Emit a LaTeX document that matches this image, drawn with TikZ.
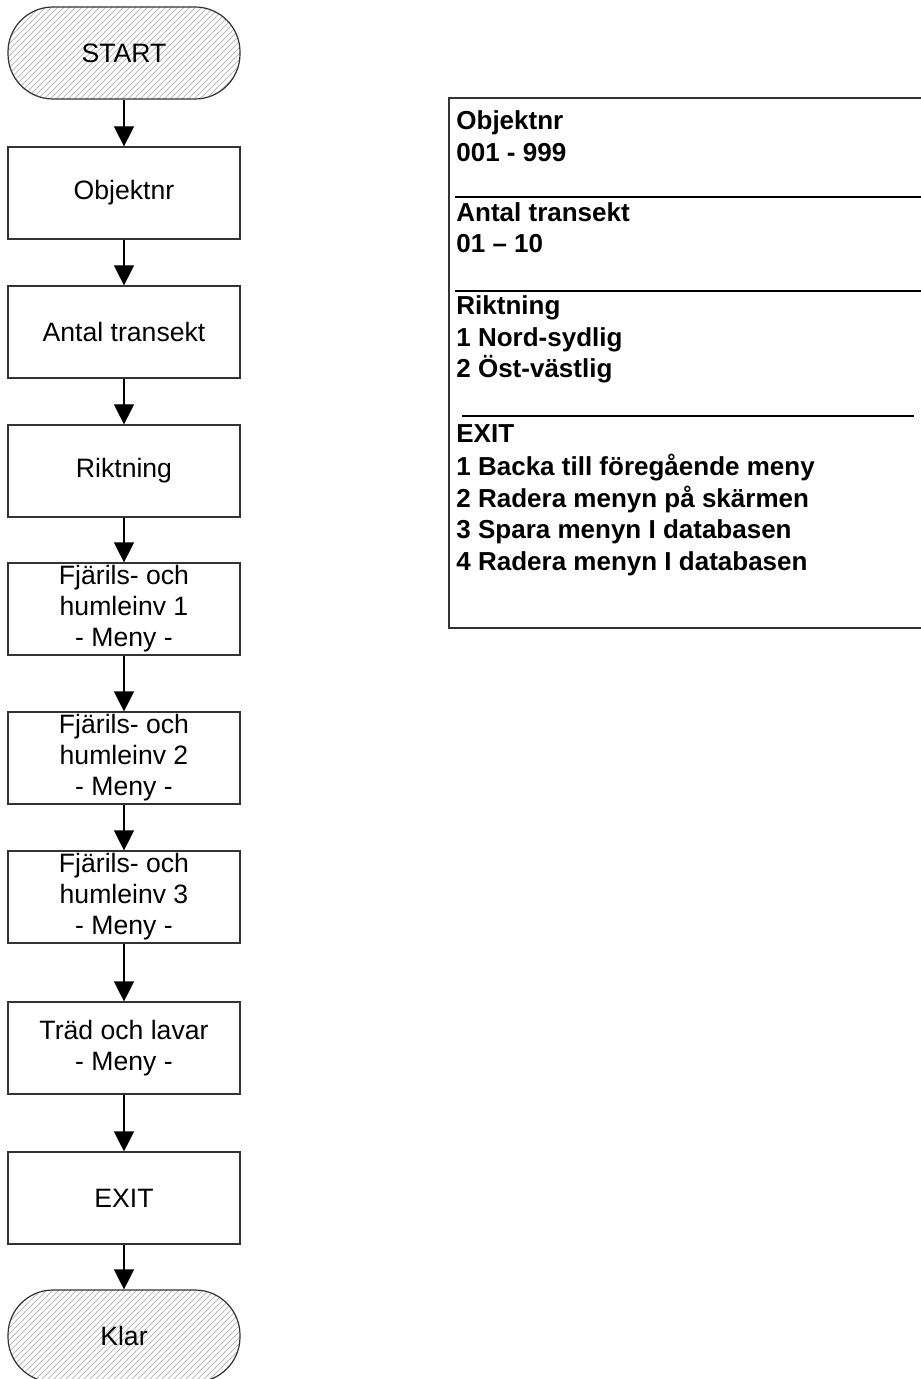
\documentclass[tikz,border=0pt]{standalone}
\usepackage{fontspec}
\setmainfont{Liberation Sans}
\usetikzlibrary{arrows.meta,patterns,positioning}

\tikzset{
  flowbox/.style={draw=black!80, line width=0.6pt, minimum width=116pt, minimum height=46pt,
    inner sep=0pt, align=center, font=\fontsize{13.3}{15.5}\selectfont},
  terminal/.style={flowbox, rounded corners=22.5pt, pattern=north east lines, pattern color=black!25},
  flowarrow/.style={-{Triangle[length=10pt,width=10pt]}, line width=0.6pt},
  menutext/.style={anchor=base west, inner sep=0pt, font=\fontsize{13}{16}\selectfont\bfseries},
  menurule/.style={line width=1.2pt},
}

\begin{document}
\begin{tikzpicture}[x=0.5pt, y=-0.5pt]

    \useasboundingbox (0,0) rectangle (920,1379);

    % flow
    \node[terminal] (start) at (124,53) {START};
    \node[flowbox] (objnr) at (124,193) {Objektnr};
    \node[flowbox] (antal) at (124,332) {Antal transekt};
    \node[flowbox] (rikt) at (124,471) {Riktning};
    \node[flowbox] (fj1) at (124,609) {Fjärils- och\\humleinv 1\\- Meny -};
    \node[flowbox] (fj2) at (124,758) {Fjärils- och\\humleinv 2\\- Meny -};
    \node[flowbox] (fj3) at (124,897) {Fjärils- och\\humleinv 3\\- Meny -};
    \node[flowbox] (trad) at (124,1048) {Träd och lavar\\- Meny -};
    \node[flowbox] (exit) at (124,1198) {EXIT};
    \node[terminal] (klar) at (124,1336) {Klar};

    \draw[flowarrow] (start) -- (objnr);
    \draw[flowarrow] (objnr) -- (antal);
    \draw[flowarrow] (antal) -- (rikt);
    \draw[flowarrow] (rikt) -- (fj1);
    \draw[flowarrow] (fj1) -- (fj2);
    \draw[flowarrow] (fj2) -- (fj3);
    \draw[flowarrow] (fj3) -- (trad);
    \draw[flowarrow] (trad) -- (exit);
    \draw[flowarrow] (exit) -- (klar);

    % menu panel
    \draw[draw=black!80, line width=0.6pt] (449,98) rectangle (930,628);
    \draw[menurule] (455,197) -- (930,197);
    \draw[menurule] (455,291) -- (930,291);
    \draw[menurule] (462,416) -- (914,416);

    \node[menutext] (m1) at (456,130) {Objektnr};
    \node[menutext] (m2) at (456,162) {001 - 999};
    \node[menutext] (m3) at (456,222) {Antal transekt};
    \node[menutext] (m4) at (456,253) {01 – 10};
    \node[menutext] (m5) at (456,315) {Riktning};
    \node[menutext] (m6) at (456,347) {1 Nord-sydlig};
    \node[menutext] (m7) at (456,378) {2 Öst-västlig};
    \node[menutext] (m8) at (456,443) {EXIT};
    \node[menutext] (m9) at (456,475) {1 Backa till föregående meny};
    \node[menutext] (m10) at (456,507) {2 Radera menyn på skärmen};
    \node[menutext] (m11) at (456,538) {3 Spara menyn I databasen};
    \node[menutext] (m12) at (456,570) {4 Radera menyn I databasen};
\end{tikzpicture}
\end{document}
